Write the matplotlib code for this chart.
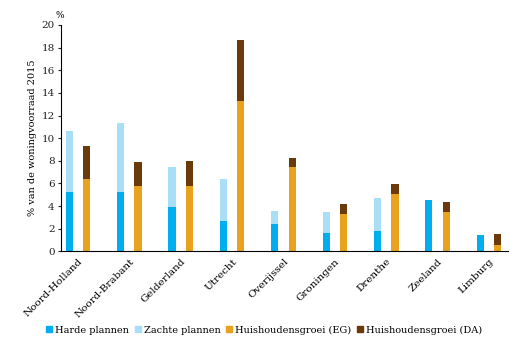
import matplotlib
matplotlib.use("Agg")
import matplotlib.pyplot as plt
import numpy as np
from matplotlib.patches import Patch
import matplotlib.transforms as mtransforms

provinces = ["Noord-Holland", "Noord-Brabant", "Gelderland", "Utrecht", "Overijssel",
             "Groningen", "Drenthe", "Zeeland", "Limburg"]
harde = [5.2, 5.2, 3.9, 2.7, 2.4, 1.6, 1.8, 4.5, 1.45]
zachte = [5.4, 6.1, 3.55, 3.65, 1.15, 1.9, 2.95, 0.0, 0.0]
hh_eg = [6.4, 5.8, 5.8, 13.25, 7.45, 3.3, 5.1, 3.45, 0.55]
hh_da = [2.95, 2.1, 2.15, 5.4, 0.8, 0.85, 0.85, 0.9, 1.0]

c_harde = "#00AEEF"
c_zachte = "#A9DEF7"
c_eg = "#E8A21E"
c_da = "#6B3A0A"

plt.rcParams['font.family'] = ['DejaVu Serif']
fig = plt.figure(figsize=(5.18, 3.45), dpi=100)
ax = fig.add_axes([61/518, 1-251.3/345, (508-61)/518, (251.3-25)/345])

x = np.arange(len(provinces))
w = 0.14
off = 0.17
ax.bar(x - off, harde, w, color=c_harde)
ax.bar(x - off, zachte, w, bottom=harde, color=c_zachte)
ax.bar(x + off, hh_eg, w, color=c_eg)
ax.bar(x + off, hh_da, w, bottom=hh_eg, color=c_da)

ax.set_ylim(0, 20)
ax.set_yticks(np.arange(0, 21, 2))
ax.set_xlim(-0.33, 8.37)
ax.set_xticks(x)
ax.set_xticklabels(provinces, rotation=45, ha="right", rotation_mode="anchor", fontsize=7.5)
shift = mtransforms.ScaledTranslation(-4/100, 0, fig.dpi_scale_trans)
for lab in ax.get_xticklabels():
    lab.set_transform(lab.get_transform() + shift)
ax.tick_params(axis="x", length=0, pad=4)
ax.tick_params(axis="y", length=2.5, width=0.8, labelsize=7.5, pad=2, colors="#222222")
for s in ["top", "right"]:
    ax.spines[s].set_visible(False)
ax.spines["left"].set_linewidth(0.8)
ax.spines["bottom"].set_linewidth(0.8)
ax.set_ylabel("% van de woningvoorraad 2015", fontsize=7, labelpad=3)
fig.text(60/518, 1-16/345, "%", fontsize=6.5, ha="center", va="center")

handles = [Patch(color=c_harde), Patch(color=c_zachte), Patch(color=c_eg), Patch(color=c_da)]
labels = ["Harde plannen", "Zachte plannen", "Huishoudensgroei (EG)", "Huishoudensgroei (DA)"]
fig.legend(handles, labels, loc="center", bbox_to_anchor=(0.51, 1-330/345), ncol=4,
           frameon=False, fontsize=7, handlelength=0.6, handleheight=0.6,
           handletextpad=0.3, columnspacing=0.6)

fig.savefig("out.png", dpi=100)
